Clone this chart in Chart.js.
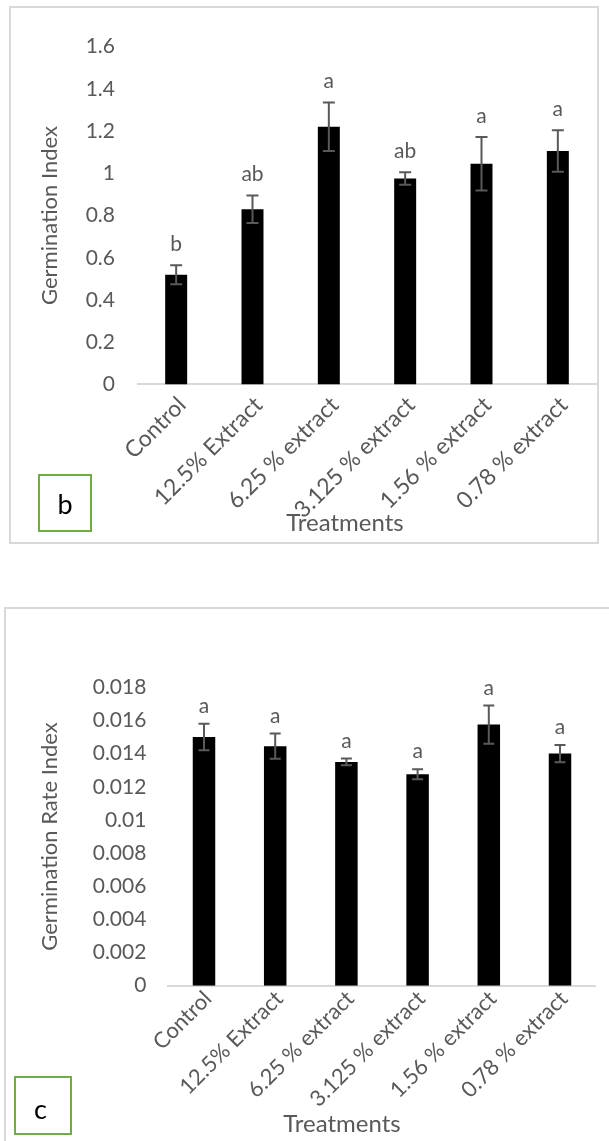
<!DOCTYPE html>
<html>
<head>
<meta charset="utf-8">
<script src="https://cdn.jsdelivr.net/npm/chart.js@4.4.1/dist/chart.umd.min.js"></script>
<style>
  html, body { margin: 0; padding: 0; background: #fff; overflow: hidden; width: 609px; height: 1141px; }
  .frame { position: absolute; border: 2px solid #d9d9d9; box-sizing: border-box; }
  .panel { position: absolute; left: 0; }
  .panel canvas { display: block; }
  .tag { position: absolute; box-sizing: border-box; border: 2px solid #70ad47;
         font-family: Lato, sans-serif; font-size: 27px; color: #000;
         display: flex; align-items: center; justify-content: center; }
</style>
</head>
<body>
<div class="frame" style="left:9px;top:6px;width:590px;height:538px"></div>
<div class="frame" style="left:4px;top:607px;width:700px;height:700px"></div>

<div class="panel" style="top:0;width:690px;height:560px"><canvas id="giChart" width="690" height="560"></canvas></div>
<div class="panel" style="top:600px;width:690px;height:541px"><canvas id="grChart" width="690" height="541"></canvas></div>

<div class="tag" style="left:38px;top:474px;width:54px;height:58px">b</div>
<div class="tag" style="left:14px;top:1076px;width:58px;height:59px;padding-top:5px;padding-right:5px">c</div>

<script>
// Treatments shared by both panels
const treatments = ['Control', '12.5% Extract', '6.25 % extract', '3.125 % extract', '1.56 % extract', '0.78 % extract'];

// Panel b: germination index (mean, error, significance letter)
const germIndex = [0.52, 0.83, 1.22, 0.975, 1.045, 1.105];
const germIndexErr = [0.045, 0.065, 0.115, 0.03, 0.127, 0.098];
const germIndexLetters = ['b', 'ab', 'a', 'ab', 'a', 'a'];

// Panel c: germination rate index (mean, error, significance letter)
const germRate = [0.0150, 0.01445, 0.0135, 0.01275, 0.01575, 0.0140];
const germRateErr = [0.0008, 0.00076, 0.0002, 0.0003, 0.00115, 0.00052];
const germRateLetters = ['a', 'a', 'a', 'a', 'a', 'a'];

const FONT = 'Lato';
const GREY = '#595959';
const TICK_SIZE = 21;
const YTITLE_SIZE = 22;
const XTITLE_SIZE = 24;

// Draws the error whiskers and the significance letters above each bar
const errorBarPlugin = {
  id: 'errorBars',
  afterDatasetsDraw(chart, args, opts) {
    const ctx = chart.ctx;
    const y = chart.scales.y;
    const ds = chart.data.datasets[0];
    const meta = chart.getDatasetMeta(0);
    ctx.save();
    ctx.strokeStyle = opts.color;
    ctx.lineWidth = opts.width;
    ctx.fillStyle = opts.textColor;
    ctx.font = opts.fontSize + 'px ' + FONT;
    ctx.textAlign = 'center';
    ctx.textBaseline = 'alphabetic';
    meta.data.forEach((bar, i) => {
      const v = ds.data[i];
      const e = ds.errors[i];
      const yTop = y.getPixelForValue(v + e);
      const yBot = y.getPixelForValue(v - e);
      const half = opts.cap / 2;
      ctx.beginPath();
      ctx.moveTo(bar.x, yTop); ctx.lineTo(bar.x, yBot);
      ctx.moveTo(bar.x - half, yTop); ctx.lineTo(bar.x + half, yTop);
      ctx.moveTo(bar.x - half, yBot); ctx.lineTo(bar.x + half, yBot);
      ctx.stroke();
      ctx.fillText(ds.letters[i], bar.x, yTop - opts.gap);
    });
    ctx.restore();
  }
};

function tickText(v) {
  return String(parseFloat(v.toFixed(4)));
}

function buildChart(id, values, errors, letters, yTitle, yMax, yStep, g) {
  const canvas = document.getElementById(id);
  const W = canvas.width, H = canvas.height;
  // bottom title box ("Treatments"), centred on g.titleX / g.titleY
  const xtLH = XTITLE_SIZE * 1.2;
  const xtPadTop = -12;
  const xtBoxTop = g.titleY - xtLH / 2 - xtPadTop;
  const padBottom = H - (g.titleY + xtLH / 2);
  const xAxisH = xtBoxTop - g.plotBottom;
  // horizontal layout: the title box spans 0 .. 2*titleX
  const padRight = W - 2 * g.titleX;
  const rightW = 2 * g.titleX - g.plotRight;
  const yAxisW = g.plotLeft;
  const ytPad = g.yTitleX - (YTITLE_SIZE * 1.2) / 2;

  return new Chart(canvas, {
    type: 'bar',
    data: {
      labels: treatments,
      datasets: [{
        data: values,
        errors: errors,
        letters: letters,
        backgroundColor: '#000000',
        borderWidth: 0,
        barPercentage: g.barPct,
        categoryPercentage: 1
      }]
    },
    options: {
      responsive: false,
      animation: false,
      devicePixelRatio: 1,
      layout: { padding: { top: g.plotTop, bottom: padBottom, left: 0, right: padRight } },
      scales: {
        x: {
          grid: { display: false, drawTicks: false },
          border: { display: true, color: '#d9d9d9', width: 2 },
          ticks: {
            autoSkip: false, minRotation: 45, maxRotation: 45,
            color: GREY, font: { family: FONT, size: g.xTickSize },
            padding: g.xTickPad, labelOffset: g.xLabelOffset
          },
          afterFit(scale) { scale.height = xAxisH; }
        },
        y: {
          min: 0, max: yMax,
          grid: { display: false, drawTicks: false },
          border: { display: false },
          ticks: {
            stepSize: yStep, color: GREY, padding: g.yTickPad,
            font: { family: FONT, size: TICK_SIZE },
            callback: (v) => tickText(v)
          },
          title: {
            display: true, text: yTitle, color: GREY,
            font: { family: FONT, size: YTITLE_SIZE },
            padding: { top: ytPad, bottom: 0 }
          },
          afterFit(scale) { scale.width = yAxisW; }
        },
        // empty right-hand margin so the bottom title sits under the whole panel
        yMargin: {
          position: 'right',
          grid: { display: false, drawTicks: false },
          border: { display: false },
          ticks: { display: false },
          afterFit(scale) { scale.width = rightW; }
        }
      },
      plugins: {
        legend: { display: false },
        tooltip: { enabled: false },
        title: {
          display: true, text: 'Treatments', position: 'bottom', color: GREY,
          font: { family: FONT, size: XTITLE_SIZE, weight: 'normal' },
          padding: { top: xtPadTop, bottom: 0 }
        },
        errorBars: { color: GREY, textColor: GREY, width: 2, cap: g.cap, gap: g.gap, fontSize: TICK_SIZE }
      }
    },
    plugins: [errorBarPlugin]
  });
}

buildChart('giChart', germIndex, germIndexErr, germIndexLetters, 'Germination Index', 1.6, 0.2, {
  plotTop: 46.5, plotBottom: 384.5, plotLeft: 138, plotRight: 596,
  titleX: 345, titleY: 523.5, yTitleX: 50, yTickPad: 23,
  xTickSize: 23, xTickPad: 7, xLabelOffset: 6, barPct: 0.288, cap: 12, gap: 14
});

buildChart('grChart', germRate, germRateErr, germRateLetters, 'Germination Rate Index', 0.018, 0.002, {
  plotTop: 87.3, plotBottom: 385.7, plotLeft: 168.4, plotRight: 595.6,
  titleX: 342, titleY: 524.5, yTitleX: 50, yTickPad: 22,
  xTickSize: 22, xTickPad: 0, xLabelOffset: 4, barPct: 0.316, cap: 11, gap: 11
});
</script>
</body>
</html>
